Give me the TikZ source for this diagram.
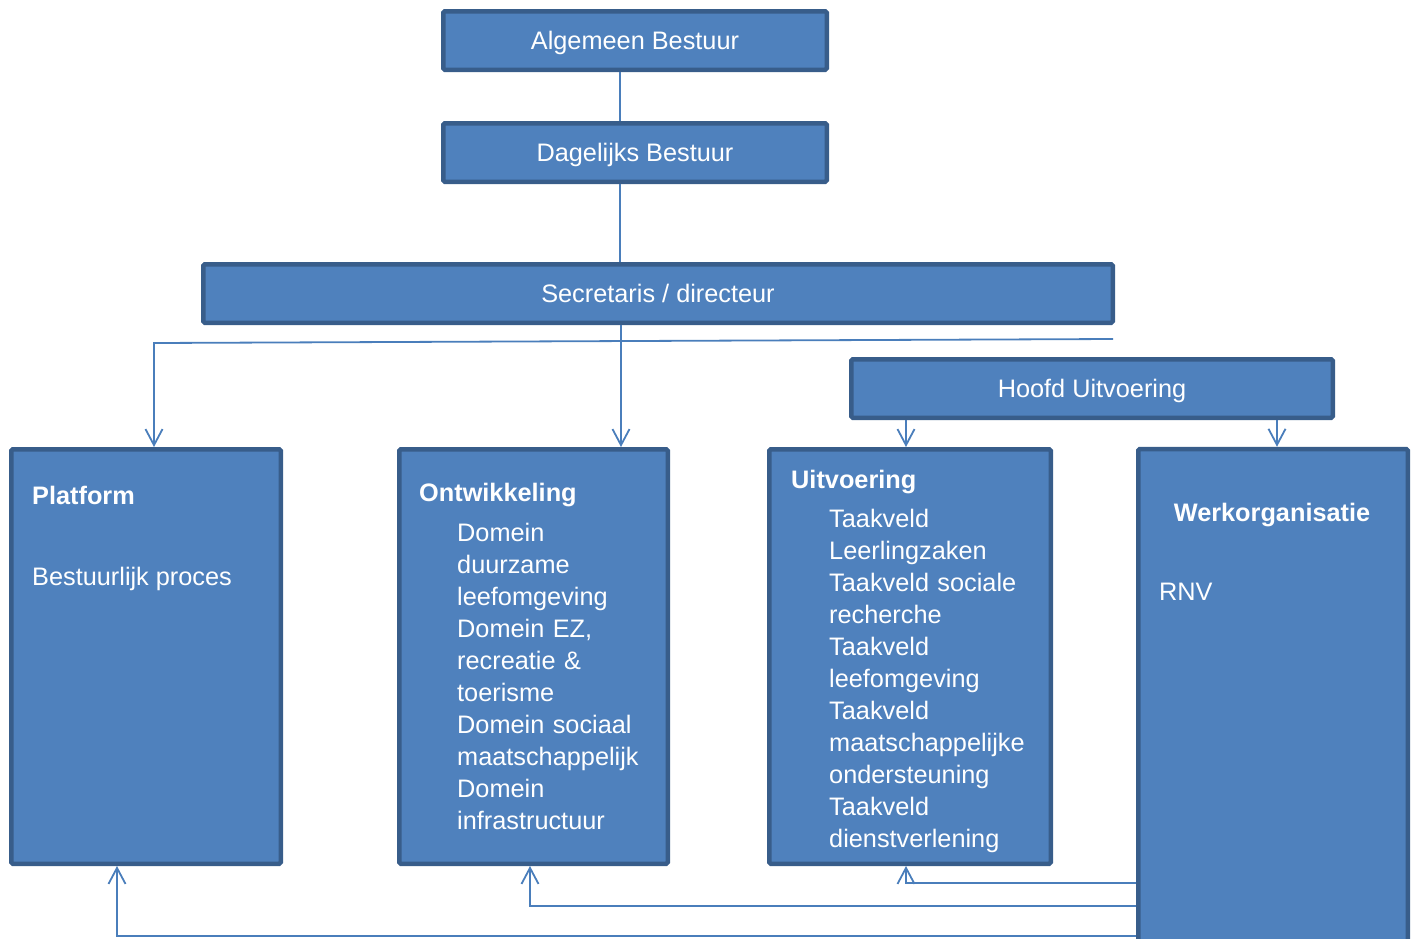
\documentclass[tikz,border=0pt]{standalone}
\usepackage{fontspec}
\setmainfont{Liberation Sans}
\usetikzlibrary{arrows.meta}
\definecolor{boxfill}{HTML}{4F81BD}
\definecolor{boxline}{HTML}{385D8A}
\definecolor{conncol}{HTML}{4A7EBB}
\begin{document}
\begin{tikzpicture}[x=1pt,y=-1pt,
  box/.style={draw=boxline, fill=boxfill, line width=4.5pt, rounded corners=1.5pt, inner sep=0pt, text=white, text height=18pt, text depth=0pt, font=\fontsize{25.3}{32}\selectfont},
  conn/.style={draw=conncol, line width=1.8pt},
  arr/.style={conn, -{Straight Barb[length=16pt,width=17pt,line width=1.8pt]}},
  lbl/.style={text=white, inner sep=0pt, anchor=base west, font=\fontsize{25.3}{32}\selectfont},
  lbold/.style={lbl, font=\fontsize{25.3}{32}\selectfont\bfseries},
  lst/.style={lbl, text width=250pt, align=left}]
\useasboundingbox (0,0) rectangle (1416,938);
% boxes
\node[box, minimum width=383.5pt, minimum height=58.5pt] (ab) at (635,40.5) {Algemeen Bestuur};
\node[box, minimum width=383.5pt, minimum height=58.5pt] (db) at (635,152.5) {Dagelijks Bestuur};
\node[box, minimum width=909.5pt, minimum height=58.5pt] (sd) at (658,293.5) {Secretaris / directeur};
\node[box, minimum width=481.5pt, minimum height=58.5pt] (hu) at (1092,388.5) {Hoofd Uitvoering};
\node[box, minimum width=269.5pt, minimum height=414.5pt] (pf) at (146,656.5) {};
\node[box, minimum width=268.5pt, minimum height=414.5pt] (on) at (533.5,656.5) {};
\node[box, minimum width=281.5pt, minimum height=414.5pt] (uv) at (910,656.5) {};
\node[box, minimum width=269.5pt, minimum height=495pt] (wo) at (1273,696.5) {};
% texts
\node[lbold] (pft) at (32,504) {Platform};
\node[lbl] (pfl) at (32,585) {Bestuurlijk proces};
\node[lbold] (ont) at (419,501) {Ontwikkeling};
\node[lst] (onl) at (457,541) {Domein\\duurzame\\leefomgeving\\Domein EZ,\\recreatie \&\\toerisme\\Domein sociaal\\maatschappelijk\\Domein\\infrastructuur};
\node[lbold] (uvt) at (791,488) {Uitvoering};
\node[lst] (uvl) at (829,527) {Taakveld\\Leerlingzaken\\Taakveld sociale\\recherche\\Taakveld\\leefomgeving\\Taakveld\\maatschappelijke\\ondersteuning\\Taakveld\\dienstverlening};
\node[lbold, anchor=base] (wot) at (1272,521) {Werkorganisatie};
\node[lbl] (wol) at (1159,600) {RNV};
% connector coordinates
\coordinate (xa) at (620,0);
\coordinate (xb) at (621,0);
\coordinate (h1) at (1113,339);
\coordinate (h2) at (154,343);
\coordinate (xu) at (906,0);
\coordinate (xw) at (1277,0);
\coordinate (b1) at (906,883);
\coordinate (b2) at (530,906);
\coordinate (b3) at (117,936);
% connectors
\draw[conn] (xa |- ab.south) -- (xa |- db.north);
\draw[conn] (xa |- db.south) -- (xa |- sd.north);
\draw[arr] (xb |- sd.south) -- (xb |- on.north);
\draw[arr] (h1) -- (h2) -- (h2 |- pf.north);
\draw[arr] (xu |- hu.south) -- (xu |- uv.north);
\draw[arr] (xw |- hu.south) -- (xw |- wo.north);
\draw[arr] (wo.west |- b1) -- (b1) -- (b1 |- uv.south);
\draw[arr] (wo.west |- b2) -- (b2) -- (b2 |- on.south);
\draw[arr] (wo.west |- b3) -- (b3) -- (b3 |- pf.south);
\end{tikzpicture}
\end{document}
